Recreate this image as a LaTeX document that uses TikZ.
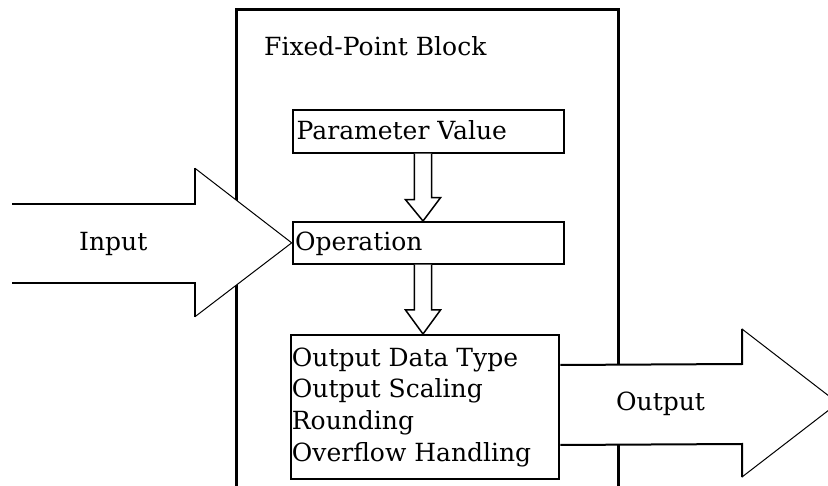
\documentclass[tikz,border=0pt]{standalone}
\usepackage{fontspec}
\setmainfont{DejaVu Serif}
\usetikzlibrary{calc}
\begin{document}
\begin{tikzpicture}[x=1pt,y=-1pt,
  frame/.style={line width=3pt},
  box/.style={draw, line width=2pt, inner sep=0pt, anchor=north west},
  txt/.style={anchor=base west, inner sep=0pt, font=\fontsize{25}{30}\selectfont},
  arrowfill/.style={fill=white},
  arrowedge/.style={line width=2pt, line join=miter},
  arrowtip/.style={line width=1pt},
  dblarrow/.style={draw, fill=white, line width=1.5pt, line join=miter}]
\useasboundingbox (0,0) rectangle (828,486);
\clip (0,0) rectangle (828,486);

% outer block, open at the bottom
\draw[frame] (236.5,495) -- (236.5,9.5) -- (618.3,9.5) -- (618.3,495);
\node[txt] (title) at (264,55.7) {Fixed-Point Block};

% inner boxes
\node[box, minimum width=270.7pt, minimum height=42.4pt] (param) at (292,109.3) {};
\node[box, minimum width=271.3pt, minimum height=41.7pt] (op) at (291.7,221) {};
\node[box, minimum width=268.8pt, minimum height=144pt] (out) at (289.5,334) {};

\node[txt] (paramtxt) at (296.5,140) {Parameter Value};
\node[txt] (optxt) at (295,250.7) {Operation};
\node[txt] (l1) at (291.7,366.5) {Output Data Type};
\node[txt] (l2) at (291.7,398) {Output Scaling};
\node[txt] (l3) at (291.7,430) {Rounding};
\node[txt] (l4) at (291.7,461.5) {Overflow Handling};

% hollow arrows between the boxes
\coordinate (axis) at (423,0);
\draw[dblarrow] ($(param.south -| axis)+(-8.7,0)$) -- ++(0,46) -- ++(-8.8,0)
  -- (op.north -| axis) -- ++(17.5,-23.3) -- ++(-8.8,0) -- ($(param.south -| axis)+(8.7,0)$);
\draw[dblarrow] ($(op.south -| axis)+(-8.7,0)$) -- ($(out.north -| axis)+(-8.7,-24)$) -- ++(-8.8,0)
  -- (out.north -| axis) -- ++(17.5,-24) -- ++(-8.8,0) -- ($(op.south -| axis)+(8.7,0)$);

% input arrow
\fill[arrowfill] (12,204.3) -- (195,204.3) -- (195,168.3) -- (op.west)
  -- (195,316.7) -- (195,283.3) -- (12,283.3) -- cycle;
\draw[arrowedge] (12,204.3) -- (195,204.3) -- (195,168.3);
\draw[arrowedge] (195,316.7) -- (195,283.3) -- (12,283.3);
\draw[arrowtip] (195,168.3) -- (op.west) -- (195,316.7);
\node[txt] (intxt) at (79,250.7) {Input};

% output arrow
\fill[arrowfill] ($(out.east)+(0,-42)$) -- (742,364) -- (742,329) -- (838,403)
  -- (742,477) -- (742,444) -- ($(out.east)+(0,38)$) -- cycle;
\draw[arrowedge] ($(out.east)+(0,-42)$) -- (742,364) -- (742,329);
\draw[arrowedge] (742,477) -- (742,444) -- ($(out.east)+(0,38)$);
\draw[arrowtip] (742,329) -- (838,403) -- (742,477);
\node[txt] (outtxt) at (616,410.7) {Output};
\end{tikzpicture}
\end{document}
